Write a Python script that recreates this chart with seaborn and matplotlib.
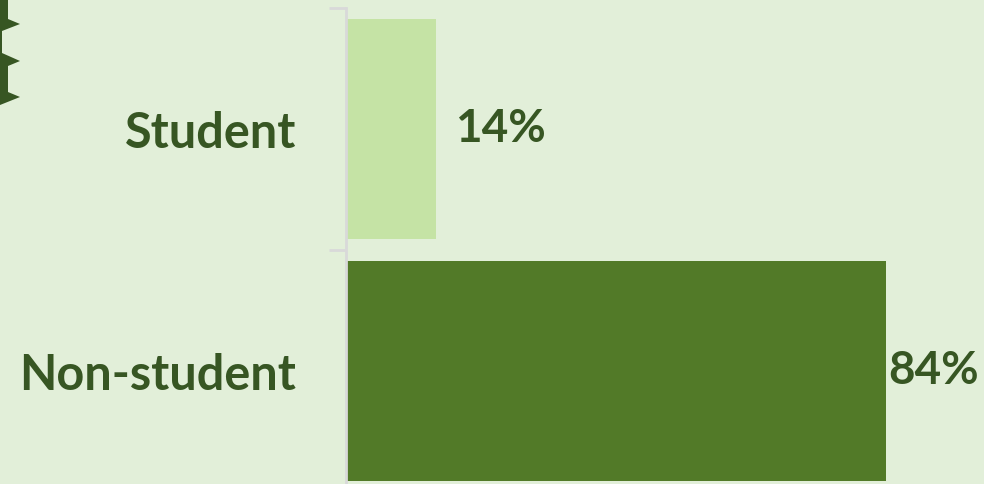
import pandas as pd
import seaborn as sns
import matplotlib.pyplot as plt
from matplotlib.patches import Polygon

# data
categories = ['Student', 'Non-student']
shares = [14, 84]
bar_colors = ['#C5E3A5', '#527A28']
value_labels = ['14%', '84%']

bg = '#E2EFD9'
text_green = '#375623'

df = pd.DataFrame({'group': categories, 'share': shares})

sns.set_style('white')
plt.rcParams['font.family'] = ['Lato', 'DejaVu Sans']

fig = plt.figure(figsize=(9.84, 4.84), dpi=100)
fig.patch.set_facecolor(bg)

# axes placed like the original slide (bottom edge runs past the image)
W, H = 984, 484
left, top, right, bottom = 346, 8, 989, 492
ax = fig.add_axes([left / W, 1 - bottom / H, (right - left) / W, (bottom - top) / H])
ax.set_facecolor(bg)

sns.barplot(data=df, x='share', y='group', hue='group', palette=bar_colors,
            order=categories, width=0.91, legend=False, saturation=1,
            linewidth=0, ax=ax)

ax.set_xlim(0, 100)
ax.set_ylim(1.5, -0.5)
ax.set_xlabel('')
ax.set_ylabel('')
ax.set_xticks([])

for s in ['top', 'right', 'bottom']:
    ax.spines[s].set_visible(False)
ax.spines['left'].set_color('#D9D9D9')
ax.spines['left'].set_linewidth(2)

ax.set_yticks(range(len(categories)))
ax.set_yticklabels(categories, fontsize=35, fontweight='bold', color=text_green)
ax.tick_params(axis='y', which='major', length=0, pad=36)
ax.set_yticks([-0.5, 0.5, 1.5], minor=True)
ax.tick_params(axis='y', which='minor', left=True, length=12.5, width=2,
               color='#D9D9D9')

# value labels, second one squeezed to fit inside the slide
offsets = [14, 1.5]
for i, (v, lab) in enumerate(zip(shares, value_labels)):
    ax.annotate(lab, xy=(v, i), xytext=(offsets[i], 0), textcoords='offset points',
                ha='left', va='center', fontsize=33, fontweight='bold',
                color=text_green, annotation_clip=False)

# decorative notched shape at the top-left edge
pts = [(0, 0), (8, 0), (8, 19), (20, 24), (2, 31), (2, 53), (20, 61), (8, 66),
       (8, 92), (20, 97), (0, 105)]
shape = Polygon([(x / W, 1 - y / H) for x, y in pts], closed=True,
                transform=fig.transFigure, facecolor=text_green, edgecolor='none')
fig.patches.append(shape)

plt.savefig('out.png', dpi=100, facecolor=bg)
